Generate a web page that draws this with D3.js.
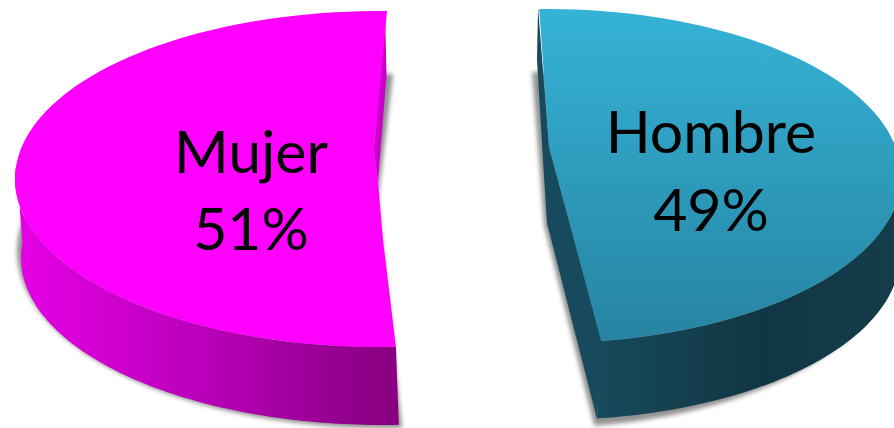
<!DOCTYPE html>
<html>
<head>
<meta charset="utf-8">
<script src="https://cdn.jsdelivr.net/npm/d3@7"></script>
<style>
html, body { margin: 0; padding: 0; background: #fff; overflow: hidden; }
svg { display: block; }
text { font-family: Lato, "Open Sans", sans-serif; fill: #000; text-anchor: middle; }
</style>
</head>
<body>
<script>
// data
var categories = ['Mujer', 'Hombre'];
var shares = [51, 49];

var W = 894, H = 428;
var RAD = Math.PI / 180;

// where each exploded slice sits, the perspective moves the tip off the ellipse center
var topFaces = [
	{cx: 380, cy: 179, rx: 365, ry: 168, tip: [[374, 150], [378, 182], [383, 240]]},
	{cx: 546, cy: 176, rx: 355, ry: 167, tip: [[549, 147]]}
];
var bottomFaces = [
	{cx: 383, cy: 258, rx: 362, ry: 167},
	{cx: 550, cy: 255, rx: 350, ry: 165}
];
var shadowFaces = [
	{cx: 386, cy: 251, rx: 369, ry: 177, tip: [[378, 200]]},
	{cx: 539, cy: 250, rx: 356, ry: 178, tip: [[544, 225]]}
];
var turn = [0, -2.2 * RAD];    // extra rotation per slice
var squeeze = [1, 0.976];      // right slice looks a bit narrower
var bottomExtra = [0, 1.2 * RAD]; // right wall's lower corner leans left
var labelPos = [[251, 173, 250], [711, 153, 231]];

var svg = d3.select('body').append('svg').attr('width', W).attr('height', H);
var defs = svg.append('defs');

defs.append('filter').attr('id', 'blur')
	.attr('x', '-5%').attr('y', '-5%').attr('width', '110%').attr('height', '110%')
	.append('feGaussianBlur').attr('stdDeviation', 2.2);

function gradient(id, stops) {
	var g = defs.append('linearGradient').attr('id', id)
		.attr('gradientUnits', 'userSpaceOnUse')
		.attr('x1', stops.from[0]).attr('y1', stops.from[1])
		.attr('x2', stops.to[0]).attr('y2', stops.to[1]);
	stops.colors.forEach(function(c) {
		g.append('stop').attr('offset', c[0]).attr('stop-color', c[1]);
	});
}

gradient('wallL', {from: [15, 0], to: [397, 0], colors: [[0, '#e600e6'], [0.5, '#b800b8'], [0.85, '#940090'], [1, '#88007f']]});
gradient('wallR', {from: [597, 0], to: [894, 0], colors: [[0, '#174a5c'], [0.55, '#113643'], [1, '#153c4a']]});
gradient('topR', {from: [0, 7], to: [0, 339], colors: [[0, '#35b3d7'], [1, '#2784a2']]});

var wallFill = ['url(#wallL)', 'url(#wallR)'];
var topFill = ['#ff00ff', 'url(#topR)'];
var innerFill = ['#c800c8', '#174a5c'];

var pie = d3.pie().sort(null)
	.startAngle(177.5 * RAD)
	.endAngle(537.5 * RAD);
var slices = pie(shares);

var line = d3.line();

// screen angle of a pie angle, 0 is up and clockwise like d3.arc
function screenAngle(d, i, a) {
	return d.startAngle + squeeze[i] * (a - d.startAngle) + turn[i];
}

function ellipsePt(face, a) {
	return [face.cx + face.rx * Math.sin(a), face.cy - face.ry * Math.cos(a)];
}

function rimPts(face, a0, a1) {
	var n = 90, pts = [];
	for (var k = 0; k <= n; k++) pts.push(ellipsePt(face, a0 + (a1 - a0) * k / n));
	return pts;
}

function sectorPath(face, d, i) {
	var a0 = screenAngle(d, i, d.startAngle), a1 = screenAngle(d, i, d.endAngle);
	return line(rimPts(face, a0, a1).concat(face.tip)) + 'Z';
}

// outer wall, only the part that faces the viewer
function wallPath(d, i) {
	var a0 = screenAngle(d, i, d.startAngle), a1 = screenAngle(d, i, d.endAngle);
	// left slice runs out on the left side, right slice starts on the right side
	var from = i == 0 ? a0 : 445 * RAD;
	var to = i == 0 ? 275 * RAD : a1;
	var lowFrom = from, lowTo = to + bottomExtra[i];
	return line(rimPts(topFaces[i], from, to).concat(rimPts(bottomFaces[i], lowTo, lowFrom))) + 'Z';
}

// the cut face next to the gap
var cutFaces = [
	[[385, 10], [386.5, 75], [378, 182], [374, 150]],
	[[538, 7], [537, 60], [543, 160], [547, 223], [597, 419], [602, 339], [549, 147]]
];

var g = svg.selectAll('g.slice').data(slices).enter().append('g').attr('class', 'slice');

g.append('path')
	.attr('d', function(d, i) { return sectorPath(shadowFaces[i], d, i); })
	.attr('fill', '#6e6e6e')
	.attr('opacity', 0.75)
	.attr('filter', 'url(#blur)');

g.append('path')
	.attr('d', wallPath)
	.attr('fill', function(d, i) { return wallFill[i]; });

g.append('path')
	.attr('d', function(d, i) { return line(cutFaces[i]) + 'Z'; })
	.attr('fill', function(d, i) { return innerFill[i]; });

g.append('path')
	.attr('d', function(d, i) { return sectorPath(topFaces[i], d, i); })
	.attr('fill', function(d, i) { return topFill[i]; });

g.append('text')
	.attr('x', function(d, i) { return labelPos[i][0]; })
	.attr('y', function(d, i) { return labelPos[i][1]; })
	.attr('font-size', 59)
	.text(function(d, i) { return categories[i]; });

g.append('text')
	.attr('x', function(d, i) { return labelPos[i][0]; })
	.attr('y', function(d, i) { return labelPos[i][2]; })
	.attr('font-size', 59)
	.text(function(d) { return d.value + '%'; });
</script>
</body>
</html>
